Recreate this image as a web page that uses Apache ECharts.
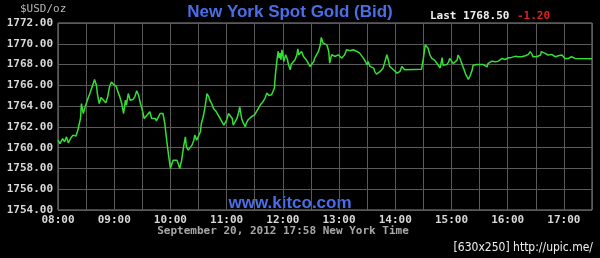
<!DOCTYPE html>
<html>
<head>
<meta charset="utf-8">
<script src="https://cdn.jsdelivr.net/npm/echarts@6/dist/echarts.min.js"></script>
<style>
html,body{margin:0;padding:0;background:#000;}
#chart{width:600px;height:258px;}
</style>
</head>
<body>
<div id="chart"></div>
<script>
// minutes after 08:00 New York time
const minutes = [
0,2,5,7,9,11,14,16,19,21,
24,25,27,29,31,32,34,37,39,41,
42,44,46,48,49,51,53,55,57,59,
62,64,66,68,70,72,73,75,77,79,
80,82,84,86,88,90,92,94,96,98,
100,102,104,105,107,109,111,112,114,116,
118,120,121,123,125,127,128,130,132,134,
136,137,139,141,143,145,146,148,150,152,
153,155,157,159,161,162,164,166,168,169,
171,173,175,177,178,180,182,184,186,187,
189,191,193,194,196,198,200,
201,203,205,207,209,210,212,214,216,217,
219,221,223,225,226,228,230,231,232,234,
235,236,237,238,239,241,242,243,245,246,
248,249,251,253,255,256,257,258,260,262,
264,265,267,269,271,273,274,276,278,280,
281,283,285,287,289,290,292,293,296,298,
299,301,303,305,306,308,310,312,314,315,
317,319,321,322,324,326,328,330,331,333,
335,337,338,340,342,344,346,347,349,351,
353,354,356,358,360,362,363,365,367,369,
370,
388,390,392,394,395,397,399,401,402,404,
406,408,410,411,413,415,417,418,420,422,
424,426,427,429,431,433,435,436,438,440,
442,443,445,447,449,451,452,454,456,458,
459,461,463,465,467,468,470,472,474,475,
477,479,481,483,484,486,488,490,491,493,
495,497,499,500,502,504,506,507,509,511,
513,515,516,518,520,522,523,525,527,529,
531,532,534,536,538,540,541,543,545,547,
548,550,552,554,570
];
const prices = [
1760.72,1760.40,1760.88,1760.56,1761.04,1760.47,1760.98,1761.21,1761.11,1761.62,
1762.81,1764.25,1763.29,1763.93,1764.09,1764.73,1765.21,1766.01,1766.56,1766.01,
1765.21,1764.25,1764.83,1764.63,1764.73,1764.31,1764.89,1765.85,1766.33,1766.11,
1765.92,1765.37,1764.89,1764.25,1763.29,1764.57,1764.09,1765.21,1764.57,1764.73,
1764.63,1764.89,1765.47,1765.05,1764.25,1763.61,1762.81,1763.03,1762.90,1763.45,
1762.81,1762.65,1762.81,1762.58,1762.65,1763.29,1763.35,1763.29,1762.33,1760.72,
1759.28,1758.00,1758.32,1758.80,1758.96,1758.80,1758.64,1758.00,1758.80,1760.08,
1761.04,1760.08,1759.76,1759.92,1760.24,1760.72,1761.21,1760.72,1760.88,1761.53,
1762.33,1762.97,1763.93,1765.21,1764.89,1764.57,1764.25,1763.77,1763.93,1763.45,
1763.29,1762.81,1762.65,1762.17,1762.17,1762.65,1763.29,1763.45,1762.81,1762.17,
1762.01,1762.81,1763.45,1763.93,1762.81,1762.33,1762.01,
1762.37,1762.69,1762.53,1763.01,1762.85,1763.17,1763.49,1763.81,1764.13,1764.13,
1764.45,1764.78,1765.26,1765.03,1765.10,1765.10,1765.16,1765.74,1767.02,1768.62,
1769.26,1768.62,1769.10,1768.46,1769.42,1768.30,1768.62,1768.94,1768.46,1767.98,
1767.50,1768.04,1767.98,1768.46,1768.94,1769.52,1768.94,1769.10,1769.26,1768.78,
1768.62,1768.46,1768.14,1767.82,1767.82,1768.30,1768.62,1768.94,1769.26,1769.90,
1770.61,1770.06,1770.22,1769.90,1769.26,1768.14,1768.94,1769.01,1768.78,1768.78,
1768.94,1768.78,1768.62,1768.78,1768.94,1769.42,1769.26,1769.33,1769.20,1769.42,
1769.52,1769.26,1769.26,1769.10,1768.94,1768.62,1768.30,1767.98,1768.30,1767.82,
1767.66,1767.66,1767.34,1767.08,1767.18,1767.34,1767.18,1767.66,1768.30,1768.94,
1768.30,1767.82,1767.66,1767.50,1767.34,1767.18,1767.08,1767.34,1767.82,1767.72,
1767.50,
1767.54,1768.59,1769.90,1769.97,1769.57,1768.92,1768.59,1768.43,1768.43,1768.26,
1767.93,1767.67,1768.66,1767.93,1768.10,1768.00,1768.26,1768.59,1768.33,1768.10,
1768.26,1768.43,1768.92,1768.59,1768.10,1767.61,1767.11,1766.95,1766.56,1766.95,
1767.44,1767.93,1767.93,1768.00,1767.93,1768.00,1768.10,1768.00,1768.10,1767.77,
1768.10,1768.20,1768.33,1768.43,1768.26,1768.43,1768.33,1768.46,1768.59,1768.66,
1768.49,1768.59,1768.66,1768.75,1768.69,1768.75,1768.79,1768.69,1768.75,1768.62,
1768.75,1768.66,1768.85,1768.92,1768.98,1769.25,1768.98,1768.75,1768.66,1768.75,
1768.85,1768.92,1769.25,1769.41,1769.08,1768.98,1768.92,1769.08,1768.98,1768.92,
1768.75,1768.66,1768.85,1768.98,1768.92,1768.75,1768.59,1768.59,1768.59,1768.69,
1768.75,1768.66,1768.59,1768.59,1768.55
];
const hourLabels = ['08:00','09:00','10:00','11:00','12:00','13:00','14:00','15:00','16:00','17:00'];
const titleText = 'New York Spot Gold (Bid)';
const unitText = '$USD/oz';
const lastText = 'Last 1768.50';
const changeText = '-1.20';
const siteText = 'www.kitco.com';
const dateText = 'September 20, 2012 17:58 New York Time';
const stampText = '[630x250] http://upic.me/';

const data = minutes.map((m, i) => [m, prices[i]]);
const mono = "'DejaVu Sans Mono', monospace";

const chart = echarts.init(document.getElementById('chart'));
chart.setOption({
  backgroundColor: '#000',
  animation: false,
  grid: {left: 58, right: 8, top: 23, bottom: 48, show: true, borderColor: '#8a8a8a', borderWidth: 1, backgroundColor: 'transparent'},
  xAxis: {
    type: 'value', min: 0, max: 570, interval: 30,
    axisLine: {show: false}, axisTick: {show: false},
    splitLine: {show: true, lineStyle: {color: '#5a5a5a', width: 1}},
    axisLabel: {
      color: '#d8d8d8', fontFamily: mono, fontWeight: 'bold', fontSize: 11, margin: 5,
      showMaxLabel: false,
      formatter: v => (v % 60 === 0 ? (hourLabels[v / 60] || '') : '')
    }
  },
  yAxis: {
    type: 'value', min: 1754, max: 1772, interval: 2,
    axisLine: {show: false}, axisTick: {show: false},
    splitLine: {show: true, lineStyle: {color: '#5a5a5a', width: 1}},
    axisLabel: {color: '#d8d8d8', fontFamily: mono, fontWeight: 'bold', fontSize: 11, margin: 5,
      formatter: v => v.toFixed(2)}
  },
  series: [{
    type: 'line', data: data, showSymbol: false, symbol: 'none',
    lineStyle: {color: '#33e033', width: 1.5}
  }],
  graphic: [
    {type: 'text', left: 20, top: 4, style: {text: unitText, fill: '#b8b8b8', font: "11px " + mono}},
    {type: 'text', x: 290, y: 12, style: {text: titleText, fill: '#4a6ee8', font: "bold 17px 'Liberation Sans', Arial, sans-serif", textAlign: 'center', textVerticalAlign: 'middle'}},
    {type: 'text', x: 430, y: 16, style: {text: lastText, fill: '#f0f0f0', font: "bold 11px " + mono, textVerticalAlign: 'middle'}},
    {type: 'text', x: 517, y: 16, style: {text: changeText, fill: '#e02020', font: "bold 11px " + mono, textVerticalAlign: 'middle'}},
    {type: 'text', x: 290, y: 203, style: {text: siteText, fill: '#4a6ee8', font: "bold 17px 'Liberation Sans', Arial, sans-serif", textAlign: 'center', textVerticalAlign: 'middle'}},
    {type: 'text', x: 283, y: 231, style: {text: dateText, fill: '#a8a8a8', font: "bold 11px " + mono, textAlign: 'center', textVerticalAlign: 'middle'}},
    {type: 'text', x: 593, y: 248, style: {text: stampText, fill: '#f0f0f0', font: "12px 'DejaVu Sans Condensed', sans-serif", textAlign: 'right', textVerticalAlign: 'middle'}}
  ]
});
</script>
</body>
</html>
